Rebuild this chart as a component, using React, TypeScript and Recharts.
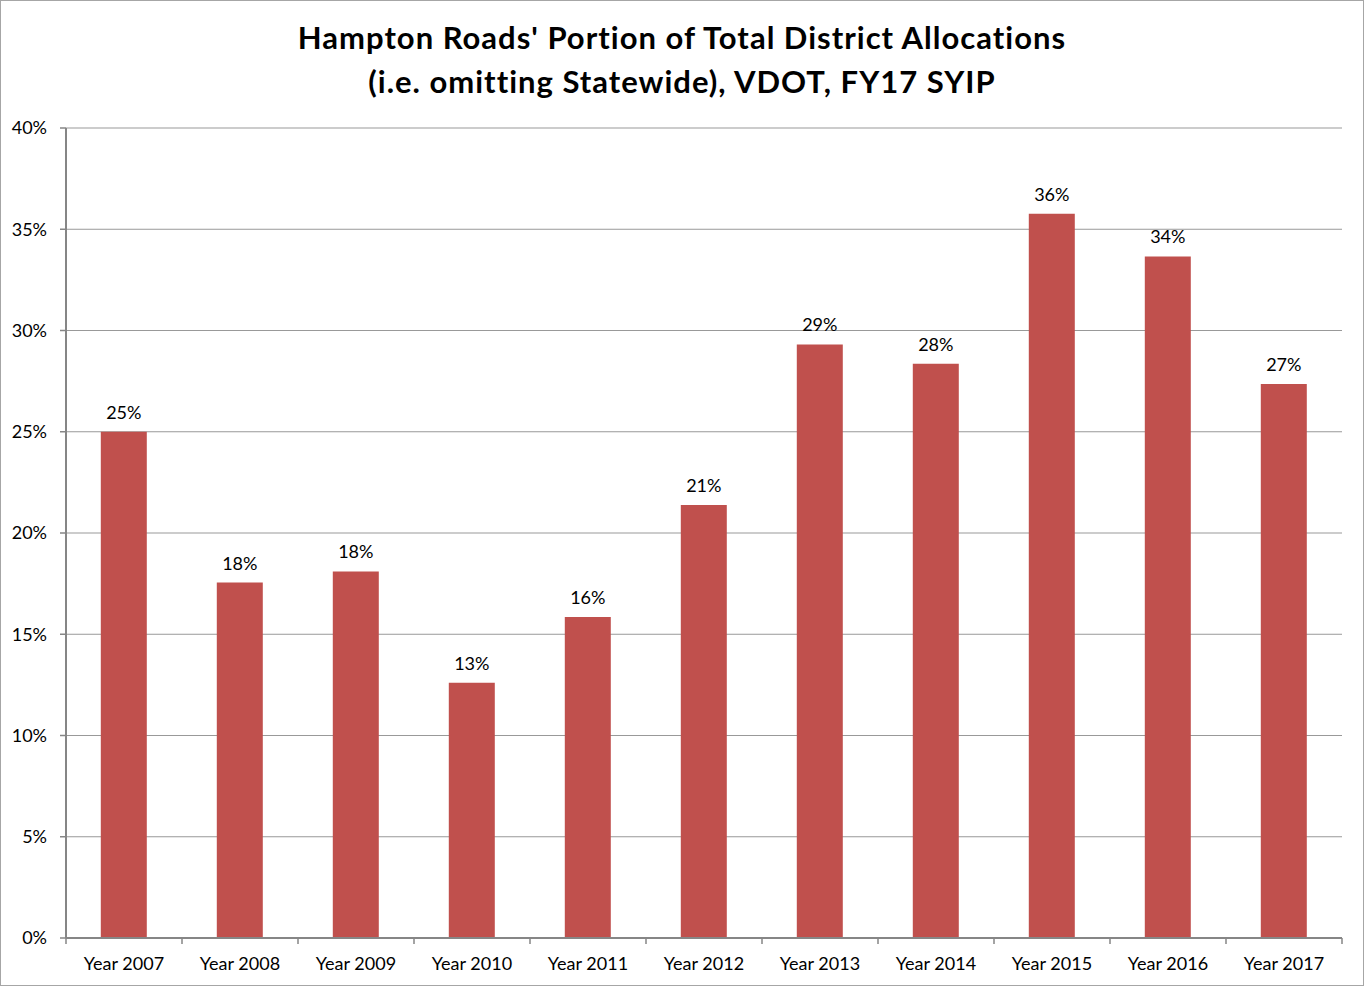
import React from "react";
import { BarChart, Bar, XAxis, YAxis, CartesianGrid, LabelList } from "recharts";

// Fiscal years shown on the category axis
const years = [
  "Year 2007", "Year 2008", "Year 2009", "Year 2010", "Year 2011", "Year 2012",
  "Year 2013", "Year 2014", "Year 2015", "Year 2016", "Year 2017",
];

// Hampton Roads share of total district allocations (percent)
const shares = [25.0, 17.55, 18.1, 12.61, 15.85, 21.38, 29.31, 28.36, 35.77, 33.66, 27.36];

// Y axis ticks (percent)
const yTicks = [0, 5, 10, 15, 20, 25, 30, 35, 40];

const titleLines = [
  "Hampton Roads' Portion of Total District Allocations",
  "(i.e. omitting Statewide), VDOT, FY17 SYIP",
];

const data = years.map((year, i) => ({ year, share: shares[i] }));

const FONT = "Lato, 'Open Sans', sans-serif";
const AXIS_COLOR = "#868686";
const GRID_COLOR = "#999999";
const BAR_COLOR = "#C0504D";
const TICK_SIZE = 6;
const TICK_MARGIN = 13;

// Category label with tick marks drawn on the band edges (between categories)
function CategoryTick(props: any) {
  const { x, y, payload, width, visibleTicksCount, index } = props;
  const half = width / visibleTicksCount / 2;
  const top = y - TICK_MARGIN - TICK_SIZE;
  const bottom = y - TICK_MARGIN;
  return (
    <g>
      <line x1={x - half} x2={x - half} y1={top} y2={bottom} stroke={AXIS_COLOR} strokeWidth={1.5} />
      {index === visibleTicksCount - 1 && (
        <line x1={x + half} x2={x + half} y1={top} y2={bottom} stroke={AXIS_COLOR} strokeWidth={1.5} />
      )}
      <text x={x} y={y} dy="0.71em" textAnchor="middle" fill="#000" fontSize={18} fontFamily={FONT}>
        {payload.value}
      </text>
    </g>
  );
}

export default function App() {
  return (
    <div style={{ position: "absolute", left: 0, top: 0, width: 1364, height: 986, background: "#fff" }}>
      <div
        style={{
          position: "absolute",
          left: 0,
          top: 0,
          width: 1364,
          textAlign: "center",
          fontFamily: FONT,
          fontWeight: 700,
          fontSize: 31,
          letterSpacing: 1,
          lineHeight: "44px",
          paddingTop: 15,
          color: "#000",
        }}
      >
        {titleLines.map((t) => (
          <div key={t}>{t}</div>
        ))}
      </div>
      <BarChart
        width={1364}
        height={986}
        data={data}
        margin={{ top: 128, right: 22, bottom: 0, left: 0 }}
        barCategoryGap="30%"
        style={{ fontFamily: FONT }}
      >
        <CartesianGrid horizontal vertical={false} stroke={GRID_COLOR} strokeWidth={1} />
        <XAxis
          dataKey="year"
          interval={0}
          height={48}
          axisLine={{ stroke: AXIS_COLOR, strokeWidth: 2 }}
          tickLine={false}
          tickSize={TICK_SIZE}
          tickMargin={TICK_MARGIN}
          tick={<CategoryTick />}
        />
        <YAxis
          width={66}
          domain={[0, 40]}
          ticks={yTicks}
          interval={0}
          tickFormatter={(v: number) => `${v}%`}
          axisLine={{ stroke: AXIS_COLOR, strokeWidth: 2 }}
          tickLine={{ stroke: AXIS_COLOR, strokeWidth: 1.5 }}
          tickSize={TICK_SIZE}
          tickMargin={TICK_MARGIN}
          tick={{ fill: "#000", fontSize: 18 }}
        />
        <Bar dataKey="share" fill={BAR_COLOR} isAnimationActive={false}>
          <LabelList
            dataKey="share"
            position="top"
            offset={13}
            formatter={(v: number) => `${Math.round(v)}%`}
            style={{ fill: "#000", fontSize: 18, fontFamily: FONT }}
          />
        </Bar>
      </BarChart>
      <div
        style={{
          position: "absolute",
          left: 0,
          top: 0,
          width: 1364,
          height: 986,
          boxSizing: "border-box",
          border: "1px solid #a6a6a6",
          pointerEvents: "none",
        }}
      />
    </div>
  );
}
